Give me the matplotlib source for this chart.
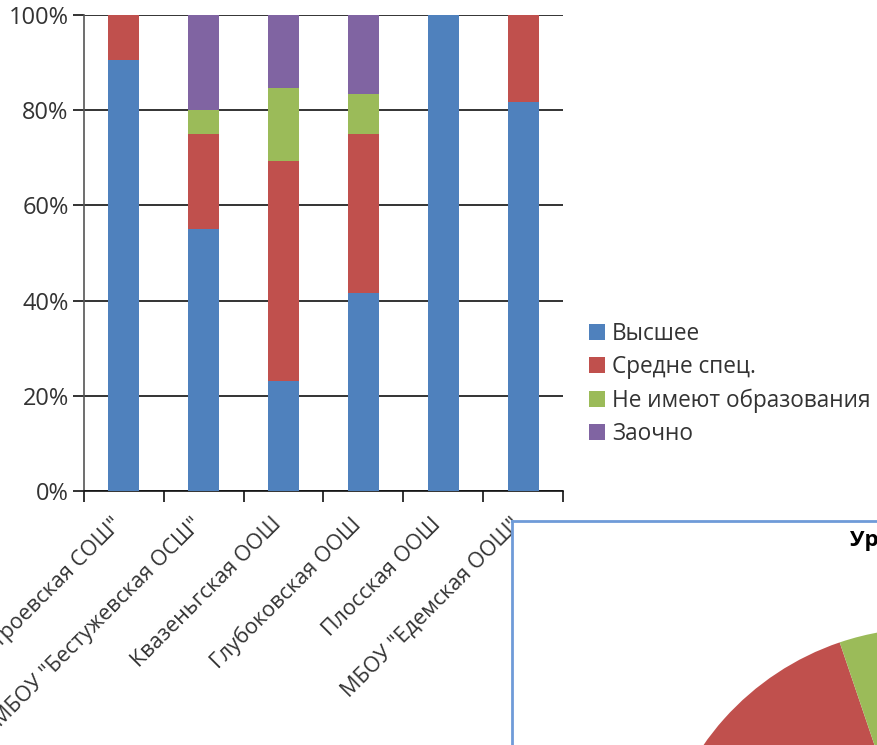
import matplotlib.pyplot as plt
import numpy as np

plt.rcParams['font.family'] = ['Open Sans', 'DejaVu Sans']

# data (shares in %)
schools = ['МБОУ "Петроевская СОШ"', 'МБОУ "Бестужевская ОСШ"', 'Квазеньгская ООШ',
           'Глубоковская ООШ', 'Плосская ООШ', 'МБОУ "Едемская ООШ"']
series = ['Высшее', 'Средне спец.', 'Не имеют образования', 'Заочно']
vysshee = [90.5, 55.0, 23.1, 41.7, 100.0, 81.8]
sredne = [9.5, 20.0, 46.2, 33.3, 0.0, 18.2]
net_obr = [0.0, 5.0, 15.4, 8.3, 0.0, 0.0]
zaochno = [0.0, 20.0, 15.4, 16.7, 0.0, 0.0]
colors = ['#4F81BD', '#C0504D', '#9BBB59', '#8064A2']

# second (cut off) chart in the corner
pie_title = 'Уровень образования'
pie_values = [62.0, 32.8, 5.2]

W, H = 878, 745
fig = plt.figure(figsize=(W / 100, H / 100), dpi=100)
ax = fig.add_axes([84 / W, 1 - 491 / H, 479 / W, 476 / H])

x = np.arange(len(schools))
bottom = np.zeros(len(schools))
for vals, name, c in zip([vysshee, sredne, net_obr, zaochno], series, colors):
    ax.bar(x, vals, width=0.39, bottom=bottom, color=c, label=name, zorder=3)
    bottom += np.array(vals)

ax.set_xlim(-0.5, len(schools) - 0.5)
ax.set_ylim(0, 100)
ax.set_yticks(range(0, 101, 20))
ax.set_yticklabels([f'{v}%' for v in range(0, 101, 20)], fontsize=17, color='#333333')
ax.yaxis.grid(True, color='#111111', linewidth=1.2, zorder=0)
ax.tick_params(axis='y', length=8, width=1.2, color='#111111', pad=3)

ax.set_xticks(np.arange(-0.5, len(schools), 1.0))
ax.set_xticklabels([])
ax.tick_params(axis='x', length=8, width=1.2, color='#111111')
for i, s in enumerate(schools):
    ax.text(i + 0.03, -4.8, s, rotation=45, ha='right', va='top', fontsize=15.5,
            color='#333333', transform=ax.transData, clip_on=False)

for sp in ['top', 'right']:
    ax.spines[sp].set_visible(False)
ax.spines['left'].set_color('#555555')
ax.spines['bottom'].set_color('#111111')
ax.spines['left'].set_linewidth(1.2)
ax.spines['bottom'].set_linewidth(1.2)

leg = ax.legend(loc='center left', bbox_to_anchor=(589 / W, 1 - 384 / H),
                bbox_transform=fig.transFigure, frameon=False, fontsize=16.3,
                handlelength=0.72, handleheight=0.72, handletextpad=0.3, labelspacing=0.4,
                borderaxespad=0, borderpad=0)
for t in leg.get_texts():
    t.set_color('#333333')

# overlapping box of another chart
box = fig.add_axes([512 / W, -0.2, 0.5, 1 - 521 / H + 0.2], zorder=5)
box.set_xticks([])
box.set_yticks([])
for sp in box.spines.values():
    sp.set_color('#6F9BD8')
    sp.set_linewidth(2)
fig.text(850 / W, 1 - 540 / H, pie_title, fontsize=16, fontweight='bold',
         ha='left', va='center', zorder=7)

r = 272
pax = fig.add_axes([(927 - r) / W, 1 - (900 + r) / H, 2 * r / W, 2 * r / H], zorder=6)
pax.pie(pie_values, colors=colors[:3], startangle=90, counterclock=False)
pax.set_xlim(-1, 1)
pax.set_ylim(-1, 1)
pax.patch.set_alpha(0)

plt.savefig('out.png', dpi=100)
